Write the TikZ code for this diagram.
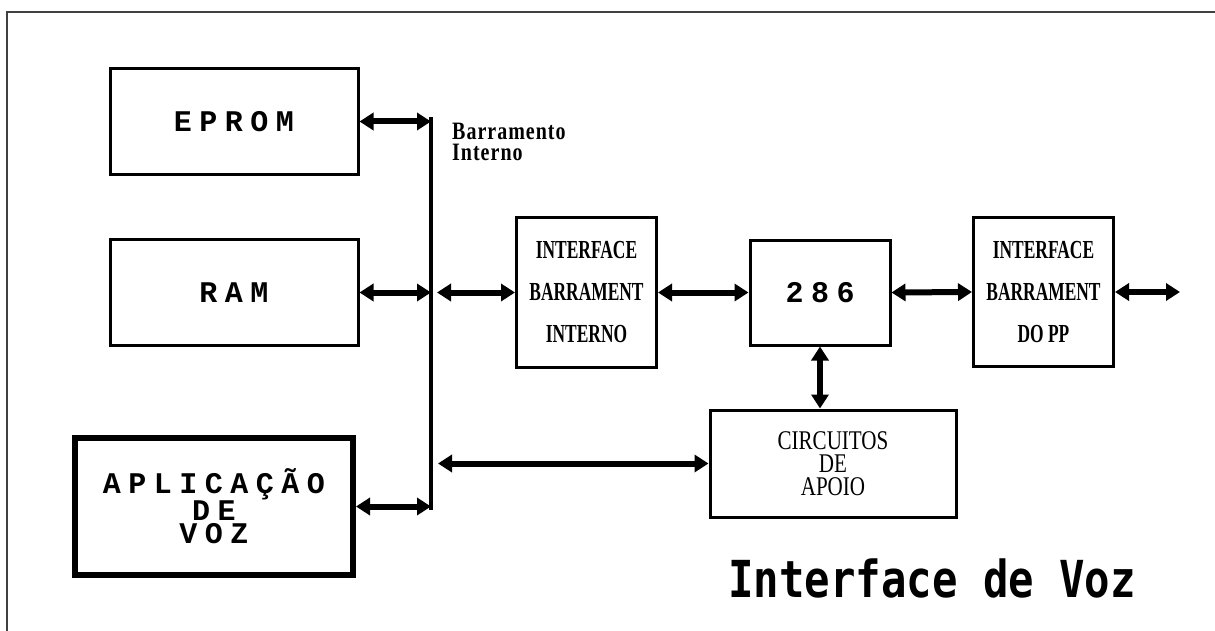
\documentclass[tikz,border=0pt]{standalone}
\usepackage{fontspec}
\newfontfamily\typefont[LetterSpace=25]{Liberation Mono}
\newfontfamily\narrowfont[FakeStretch=0.67]{Liberation Serif}
\newfontfamily\apoiofont[FakeStretch=0.78]{Liberation Serif}
\newfontfamily\busfont[FakeStretch=0.8,LetterSpace=4]{Liberation Serif}
\newfontfamily\titlefont[FakeStretch=0.83]{DejaVu Sans Mono}
\usetikzlibrary{arrows.meta}

\tikzset{
  block/.style={draw, line width=3pt, align=center, inner sep=0pt},
  memblock/.style={block, minimum width=248pt, minimum height=106pt,
    font=\typefont\bfseries\fontsize{30}{23}\selectfont},
  ifblock/.style={block, minimum width=140pt, minimum height=149pt,
    font=\narrowfont\bfseries\fontsize{26}{42}\selectfont},
  busarrow/.style={line width=6pt, {Triangle[length=14pt,width=17pt]}-{Triangle[length=14pt,width=17pt]}}
}

\begin{document}
\begin{tikzpicture}[x=1pt, y=-1pt]
  \useasboundingbox (0,0) rectangle (1215,631);

  % moldura
  \draw[line width=1.2pt, black!75] (7,631) -- (7,12) -- (1215,12);

  % blocos
  \node[memblock] (eprom) at (234,121.5) {EPROM};
  \node[memblock] (ram) at (234,292.5) {RAM};
  \node[memblock, line width=6pt, minimum width=278pt, minimum height=137pt] (aplic) at (214,506.5) {APLICAÇÃO\\DE\\VOZ};
  \node[ifblock] (ifint) at (586.5,292.5) {INTERFACE\\BARRAMENT\\INTERNO};
  \node[block, minimum width=140pt, minimum height=105pt,
    font=\typefont\bfseries\fontsize{30}{30}\selectfont] (cpu) at (820,292.5) {286};
  \node[ifblock] (ifpp) at (1043.5,292) {INTERFACE\\BARRAMENT\\DO PP};
  \node[block, minimum width=246pt, minimum height=107pt,
    font=\apoiofont\fontsize{27}{23}\selectfont] (apoio) at (833,463.5) {CIRCUITOS\\DE\\APOIO};

  % barramento interno
  \coordinate (bustop) at (431,117);
  \coordinate (busbot) at (431,510);
  \draw[line width=4pt] (bustop) -- (busbot);
  \node[anchor=north west, align=left, inner sep=0pt,
    font=\busfont\bfseries\fontsize{25}{21}\selectfont] (buslabel) at (452,123) {Barramento\\Interno};

  % ligacoes
  \draw[busarrow] (eprom.east) -- (eprom.east -| bustop);
  \draw[busarrow] (ram.east) -- (ram.east -| bustop);
  \draw[busarrow] (aplic.east) -- (aplic.east -| bustop);
  \coordinate (busif) at (437,292.5);
  \draw[busarrow] (busif) -- (ifint.west);
  \coordinate (busap) at (438,463.5);
  \draw[busarrow] (busap) -- (apoio.west);
  \draw[busarrow] (ifint.east) -- (cpu.west);
  \draw[busarrow] (cpu.east) -- (ifpp.west);
  \coordinate (ppout) at (1180,292);
  \draw[busarrow] (ifpp.east) -- (ppout);
  \draw[busarrow] (cpu.south) -- (cpu.south |- apoio.north);

  % titulo
  \node[anchor=base west, inner sep=0pt,
    font=\titlefont\bfseries\fontsize{51}{51}\selectfont] (titulo) at (728,597) {Interface de Voz};
\end{tikzpicture}
\end{document}
